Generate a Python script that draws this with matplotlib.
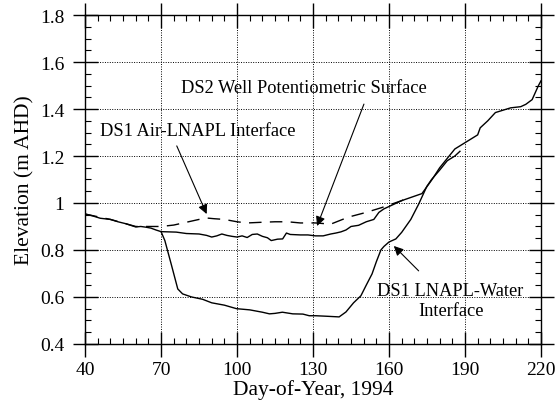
import matplotlib
matplotlib.use("Agg")
import matplotlib.pyplot as plt
from matplotlib.ticker import MultipleLocator, FixedLocator

plt.rcParams['font.family'] = ['Liberation Serif', 'DejaVu Serif']

# DS2 well potentiometric surface
pot_day = [40, 43, 46, 50, 53, 56, 60, 62, 64, 66, 68, 70, 73, 76, 80, 85, 88, 90, 92, 94,
           96, 98, 100, 102, 104, 106, 108, 110, 112, 113.5, 116, 118, 119.5, 121, 125, 128,
           131, 134, 137, 139, 141, 143, 145, 148, 151, 154, 156, 158, 161, 165, 169, 173,
           175, 177, 180, 183, 186, 189, 192, 195, 196, 199, 202, 205, 208, 212, 214, 216.5,
           219, 220]
pot_elev = [0.953, 0.945, 0.935, 0.93, 0.92, 0.912, 0.898, 0.90, 0.897, 0.893, 0.885, 0.878,
            0.877, 0.876, 0.87, 0.868, 0.862, 0.855, 0.86, 0.868, 0.862, 0.858, 0.855, 0.86,
            0.853, 0.866, 0.868, 0.858, 0.852, 0.84, 0.846, 0.847, 0.872, 0.866, 0.864, 0.864,
            0.86, 0.86, 0.868, 0.872, 0.877, 0.885, 0.90, 0.905, 0.92, 0.93, 0.96, 0.975,
            0.99, 1.01, 1.025, 1.04, 1.07, 1.10, 1.15, 1.19, 1.23, 1.25, 1.27, 1.29, 1.32,
            1.35, 1.385, 1.395, 1.405, 1.41, 1.42, 1.44, 1.50, 1.52]

# DS1 air-LNAPL interface (dashed)
air_day = [40, 50, 60, 65, 70, 75, 80, 85, 88, 91, 95, 100, 104, 110, 115, 120, 125, 131,
           137, 144, 151, 157, 161, 165, 168]
air_elev = [0.953, 0.93, 0.9, 0.9, 0.90, 0.906, 0.918, 0.93, 0.936, 0.933, 0.93, 0.92, 0.915,
            0.918, 0.92, 0.92, 0.915, 0.915, 0.91, 0.94, 0.96, 0.98, 0.995, 1.01, 1.025]

# DS1 LNAPL-water interface
wat_day = [70, 71.5, 74, 76.6, 78.5, 82, 86.4, 90, 95, 99.8, 105, 110, 112.8, 115, 117.9,
           122, 126, 128.5, 131, 135, 140.3, 143, 146, 148.9, 151, 153.3, 155, 156.8, 158,
           160, 162.7, 165, 168.6, 171.7, 174.9, 176.8, 180, 183, 186, 188]
wat_elev = [0.878, 0.84, 0.74, 0.634, 0.613, 0.60, 0.59, 0.575, 0.565, 0.55, 0.545, 0.535,
            0.528, 0.53, 0.535, 0.528, 0.527, 0.52, 0.52, 0.518, 0.515, 0.536, 0.575, 0.605,
            0.65, 0.698, 0.75, 0.80, 0.815, 0.834, 0.847, 0.875, 0.93, 0.995, 1.07, 1.10,
            1.14, 1.18, 1.20, 1.22]

x_ticks = [40, 70, 100, 130, 160, 190, 220]
y_ticks = [0.4, 0.6, 0.8, 1.0, 1.2, 1.4, 1.6, 1.8]
y_tick_labels = ["0.4", "0.6", "0.8", "1", "1.2", "1.4", "1.6", "1.8"]

fig = plt.figure(figsize=(5.56, 4.02), dpi=100)
ax = fig.add_axes([0.153, 0.142, 0.820, 0.818])

ax.plot(pot_day, pot_elev, color='black', lw=1.0)
ax.plot(air_day, air_elev, color='black', lw=1.0, linestyle=(0, (9, 6)))
ax.plot(wat_day, wat_elev, color='black', lw=1.0)

ax.set_xlim(40, 220)
ax.set_ylim(0.4, 1.8)
ax.xaxis.set_major_locator(FixedLocator(x_ticks))
ax.yaxis.set_major_locator(FixedLocator(y_ticks))
ax.set_yticklabels(y_tick_labels)
ax.xaxis.set_minor_locator(MultipleLocator(5))
ax.yaxis.set_minor_locator(MultipleLocator(0.05))
ax.tick_params(which='major', direction='inout', length=18, width=1.0,
               top=True, right=True, labelsize=14)
ax.tick_params(axis='x', which='major', pad=3)
ax.tick_params(axis='y', which='major', pad=6)
ax.tick_params(which='minor', direction='in', length=4, width=0.8, top=True, right=True)
ax.grid(True, which='major', linestyle=(0, (1, 1.5)), color='black', lw=0.7)
for s in ax.spines.values():
    s.set_linewidth(1.0)

ax.set_xlabel("Day-of-Year, 1994", fontsize=15.5, labelpad=1)
ax.set_ylabel("Elevation (m AHD)", fontsize=15.5, labelpad=4)

ap = dict(arrowstyle='-|>', color='black', lw=0.8, mutation_scale=14, shrinkA=0, shrinkB=0)
ax.text(126.2, 1.49, "DS2 Well Potentiometric Surface", fontsize=13.2, ha='center', va='center')
ax.annotate("", xy=(131.6, 0.902), xytext=(150.1, 1.421), arrowprops=ap)
ax.text(84.5, 1.31, "DS1 Air-LNAPL Interface", fontsize=13.2, ha='center', va='center')
ax.annotate("", xy=(88, 0.953), xytext=(76.2, 1.243), arrowprops=ap)
ax.text(184.3, 0.585, "DS1 LNAPL-Water\nInterface", fontsize=13.2, ha='center', va='center',
        linespacing=1.2)
ax.annotate("", xy=(161.9, 0.817), xytext=(171.7, 0.711), arrowprops=ap)

fig.savefig("out.png", dpi=100)
